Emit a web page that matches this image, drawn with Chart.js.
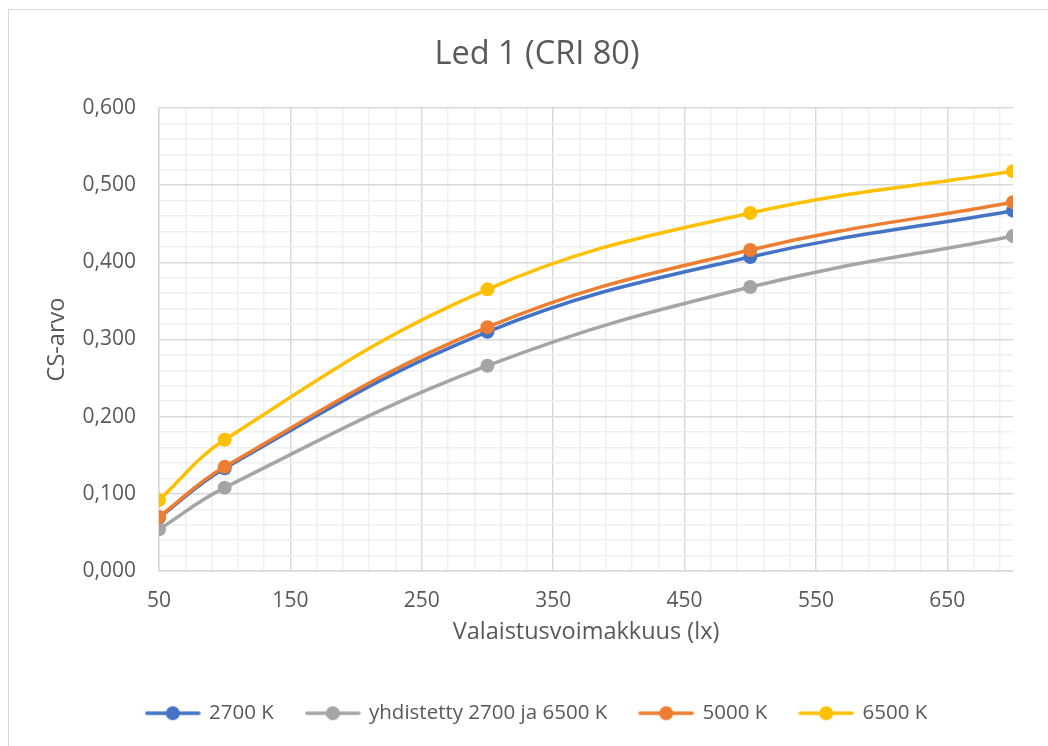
<!DOCTYPE html>
<html>
<head>
<meta charset="utf-8">
<script src="https://cdn.jsdelivr.net/npm/chart.js@4/dist/chart.umd.min.js"></script>
<style>
  body { margin: 0; background: #fff; }
  #frame { position: absolute; left: 8px; top: 9px; width: 1100px; height: 800px; border: 1.5px solid #d9d9d9; }
  #wrap { position: absolute; left: 0; top: 0; width: 1048px; height: 746px; }
</style>
</head>
<body>
<div id="frame"></div>
<div id="wrap"><canvas id="chart" width="1048" height="746"></canvas></div>
<script>
// values
const xValues = [50, 100, 300, 500, 700];
const cs2700 = [0.069, 0.133, 0.310, 0.407, 0.467];
const csMixed = [0.054, 0.108, 0.266, 0.368, 0.434];
const cs5000 = [0.070, 0.135, 0.316, 0.416, 0.478];
const cs6500 = [0.092, 0.170, 0.365, 0.464, 0.518];
const seriesNames = ['2700 K', 'yhdistetty 2700 ja 6500 K', '5000 K', '6500 K'];
const seriesColors = ['#4472C4', '#A5A5A5', '#ED7D31', '#FFC000'];

const FONT = "'Open Sans', 'Noto Sans', sans-serif";
const TEXT = '#595959';

const toPoints = (ys) => ys.map((y, i) => ({ x: xValues[i], y: y }));

// small line + dot picture for the legend, like Excel does it
const legendMark = (color) => {
    let c = document.createElement('canvas');
    c.width = 56; c.height = 16;
    let g = c.getContext('2d');
    g.strokeStyle = color;
    g.lineWidth = 3.5;
    g.lineCap = 'round';
    g.beginPath(); g.moveTo(2, 8); g.lineTo(54, 8); g.stroke();
    g.fillStyle = color;
    g.beginPath(); g.arc(28, 8, 7, 0, Math.PI * 2); g.fill();
    return c;
};

const makeDataset = (i, ys, order) => ({
    label: seriesNames[i],
    data: toPoints(ys),
    borderColor: seriesColors[i],
    backgroundColor: seriesColors[i],
    borderWidth: 3.5,
    pointRadius: 7,
    pointHoverRadius: 7,
    pointBorderWidth: 0,
    tension: 0.4,
    order: order
});

const xMajor = (v) => (v - 50) % 100 === 0;
const yMajor = (v) => Math.round(v * 100) % 10 === 0;

new Chart(document.getElementById('chart'), {
    type: 'line',
    data: {
        datasets: [
            makeDataset(0, cs2700, 3),
            makeDataset(1, csMixed, 2),
            makeDataset(2, cs5000, 1),
            makeDataset(3, cs6500, 0)
        ]
    },
    options: {
        responsive: false,
        animation: false,
        layout: { padding: { left: 26, right: 0, top: 0, bottom: 12.5 } },
        plugins: {
            tooltip: { enabled: false },
            title: {
                display: true,
                text: 'Led 1 (CRI 80)',
                color: TEXT,
                font: { family: FONT, size: 32.5, weight: 'normal' },
                padding: { top: 35.5, bottom: 33.5 }
            },
            legend: {
                position: 'bottom',
                labels: {
                    color: TEXT,
                    font: { family: FONT, size: 20.5 },
                    usePointStyle: true,
                    pointStyleWidth: 52,
                    padding: 33,
                    sort: (a, b) => a.datasetIndex - b.datasetIndex,
                    generateLabels: (chart) => {
                        let items = Chart.defaults.plugins.legend.labels.generateLabels(chart);
                        items.forEach(it => { it.pointStyle = legendMark(seriesColors[it.datasetIndex]); });
                        return items;
                    }
                }
            }
        },
        scales: {
            x: {
                type: 'linear',
                min: 50,
                max: 700,
                afterBuildTicks: (axis) => {
                    let t = [];
                    for (let v = 50; v < 700; v += 20) t.push({ value: v });
                    axis.ticks = t;
                },
                afterFit: (axis) => { axis.height = 99; },
                ticks: {
                    autoSkip: false,
                    maxRotation: 0,
                    padding: 17,
                    color: TEXT,
                    font: { family: FONT, size: 21 },
                    callback: (v) => xMajor(v) ? String(v) : ''
                },
                grid: {
                    drawTicks: false,
                    lineWidth: 1.5,
                    color: (ctx) => xMajor(ctx.tick.value) ? '#d9d9d9' : '#f0f0f0'
                },
                border: { color: '#d9d9d9', width: 1.5 },
                title: {
                    display: true,
                    text: 'Valaistusvoimakkuus (lx)',
                    color: TEXT,
                    font: { family: FONT, size: 23.5 },
                    padding: { top: 0, bottom: 24 }
                }
            },
            y: {
                min: 0,
                max: 0.6,
                afterBuildTicks: (axis) => {
                    let t = [];
                    for (let i = 0; i <= 30; i++) t.push({ value: Math.round(i * 2) / 100 });
                    axis.ticks = t;
                },
                afterFit: (axis) => { axis.width = 133; },
                ticks: {
                    autoSkip: false,
                    padding: 23,
                    color: TEXT,
                    font: { family: FONT, size: 21 },
                    callback: (v) => yMajor(v) ? v.toFixed(3).replace('.', ',') : ''
                },
                grid: {
                    drawTicks: false,
                    lineWidth: 1.5,
                    color: (ctx) => yMajor(ctx.tick.value) ? '#d9d9d9' : '#f0f0f0'
                },
                border: { color: '#d9d9d9', width: 1.5 },
                title: {
                    display: true,
                    text: 'CS-arvo',
                    color: TEXT,
                    font: { family: FONT, size: 23.5 },
                    padding: { top: 17, bottom: 0 }
                }
            },
            // empty axis on the right, only keeps the gap after the plot
            spacer: {
                type: 'linear',
                position: 'right',
                display: true,
                afterFit: (axis) => { axis.width = 35; },
                ticks: { display: false },
                grid: { display: false },
                border: { display: false }
            }
        }
    }
});
</script>
</body>
</html>
